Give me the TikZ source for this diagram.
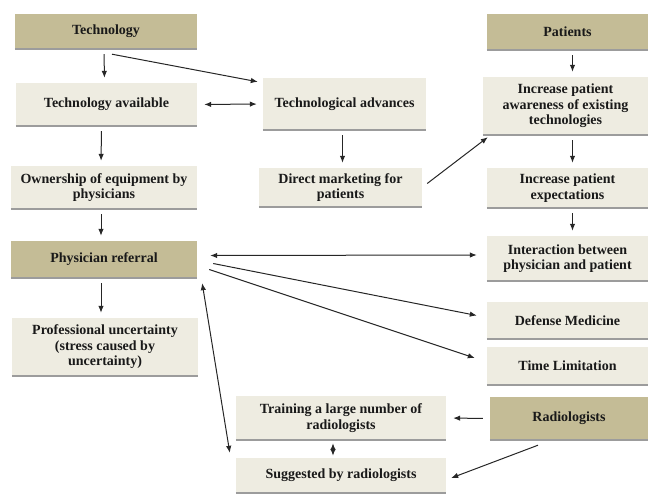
\documentclass[tikz,border=0pt]{standalone}
\usepackage{fontspec}
\setmainfont{Liberation Serif}
\usetikzlibrary{arrows.meta}
\definecolor{khaki}{HTML}{C4BC96}
\definecolor{paper}{HTML}{EEECE1}
\definecolor{edgegray}{HTML}{9C9C9C}
\begin{document}
\begin{tikzpicture}[x=1pt,y=-1pt,
    box/.style={rectangle,inner sep=0pt,align=center,
        font=\fontsize{14}{15.5}\selectfont\bfseries,text=black!90},
    darkbox/.style={box,fill=khaki},
    lightbox/.style={box,fill=paper},
    arr/.style={-{Latex[length=7pt,width=5.5pt]},line width=1pt,black!85,
        shorten >=5pt,shorten <=5pt},
    darr/.style={arr,{Latex[length=7pt,width=5.5pt]}-{Latex[length=7pt,width=5.5pt]}}]
    \useasboundingbox (0,0) rectangle (651,493);
    %left column
    \node[darkbox,minimum width=182,minimum height=35] (tech) at (106,31.5) {Technology};
    \node[lightbox,minimum width=181,minimum height=43] (avail) at (106.5,104.5) {Technology available};
    \node[lightbox,minimum width=186,minimum height=43] (own) at (104,187.5) {Ownership of equipment by\\physicians};
    \node[darkbox,minimum width=186,minimum height=37] (referral) at (104,259.5) {Physician referral};
    \node[lightbox,minimum width=186,minimum height=58] (uncert) at (105,347) {Professional uncertainty\\(stress caused by\\uncertainty)};
    %middle column
    \node[lightbox,minimum width=163,minimum height=52] (advances) at (344.5,104) {Technological advances};
    \node[lightbox,minimum width=163,minimum height=39] (marketing) at (340.5,187.5) {Direct marketing for\\patients};
    \node[lightbox,minimum width=210,minimum height=44] (training) at (341,418) {Training a large number of\\radiologists};
    \node[lightbox,minimum width=210,minimum height=35] (suggested) at (341,475.5) {Suggested by radiologists};
    %right column
    \node[darkbox,minimum width=161,minimum height=36] (patients) at (567.5,32) {Patients};
    \node[lightbox,minimum width=165,minimum height=58] (aware) at (565.5,106) {Increase patient\\awareness of existing\\technologies};
    \node[lightbox,minimum width=161,minimum height=40] (expect) at (567.5,188) {Increase patient\\expectations};
    \node[lightbox,minimum width=161,minimum height=45] (interact) at (567.5,258.5) {Interaction between\\physician and patient};
    \node[lightbox,minimum width=161,minimum height=37] (defense) at (567.5,320.5) {Defense Medicine};
    \node[lightbox,minimum width=161,minimum height=38] (timelim) at (567.5,366) {Time Limitation};
    \node[darkbox,minimum width=158,minimum height=43] (radio) at (569,418.5) {Radiologists};
    %bottom edges
    \foreach \n in {tech,avail,own,referral,uncert,advances,marketing,training,suggested,
        patients,aware,expect,interact,defense,timelim,radio}
        \draw[edgegray,line width=1.5pt] (\n.south west) -- (\n.south east);
    %arrows down
    \draw[arr] ([xshift=-2pt]tech.south) -- ([xshift=-2pt]avail.north);
    \draw[arr] ([xshift=-5pt]avail.south) -- ([xshift=-3pt]own.north);
    \draw[arr] ([xshift=-3pt]own.south) -- ([xshift=-3pt]referral.north);
    \draw[arr] ([xshift=-3pt]referral.south) -- ([xshift=-4pt]uncert.north);
    \draw[arr] ([xshift=-2pt]advances.south) -- ([xshift=2pt]marketing.north);
    \draw[arr] ([xshift=5pt]patients.south) -- ([xshift=7pt]aware.north);
    \draw[arr] ([xshift=7pt]aware.south) -- ([xshift=5pt]expect.north);
    \draw[arr] ([xshift=5pt]expect.south) -- ([xshift=5pt]interact.north);
    %technology and patients
    \draw[arr,shorten <=0pt,shorten >=0pt] ([shift={(6,5)}]tech.south) -- ([shift={(-5,4)}]advances.north west);
    \draw[darr,shorten <=7pt,shorten >=6pt] (avail.east) -- (advances.west);
    \draw[arr,shorten <=0pt,shorten >=0pt] ([shift={(5,-4)}]marketing.east) -- ([shift={(5,2)}]aware.south west);
    %physician referral
    \draw[darr,shorten <=0pt,shorten >=0pt] ([shift={(13,-4)}]referral.east) -- ([shift={(-10,-3.5)}]interact.west);
    \draw[arr,shorten <=0pt,shorten >=0pt] ([shift={(16,4)}]referral.east) -- ([shift={(-10,-5)}]defense.west);
    \draw[arr,shorten <=0pt,shorten >=0pt] ([shift={(12,10)}]referral.east) -- ([shift={(-12,-8)}]timelim.west);
    \draw[darr,shorten <=0pt,shorten >=0pt] ([shift={(5,5)}]referral.south east) -- ([shift={(-6,-5)}]suggested.north west);
    %radiologists
    \draw[arr,shorten <=7pt,shorten >=7pt] (radio.west) -- (training.east);
    \draw[darr,shorten <=3pt,shorten >=2pt] ([xshift=-8pt]training.south) -- ([xshift=-8pt]suggested.north);
    \draw[arr,shorten <=0pt,shorten >=0pt] ([shift={(-31,5)}]radio.south) -- ([shift={(5,2.5)}]suggested.east);
\end{tikzpicture}
\end{document}
